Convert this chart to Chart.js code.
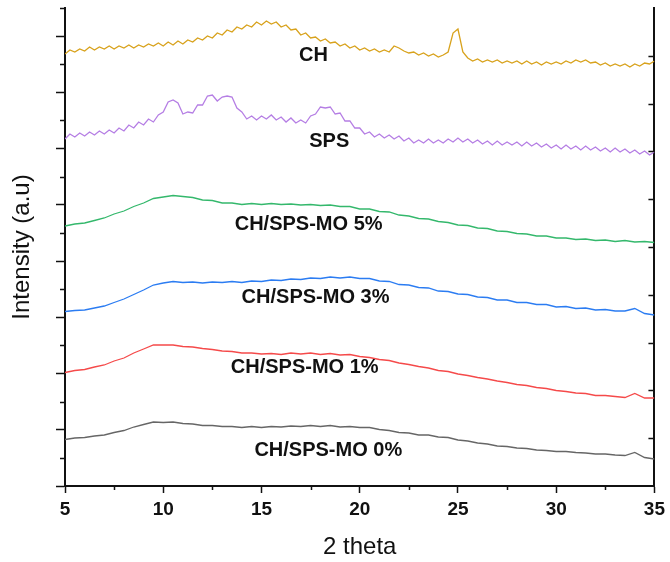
<!DOCTYPE html>
<html>
<head>
<meta charset="utf-8">
<script src="https://cdn.jsdelivr.net/npm/chart.js@4.4.0/dist/chart.umd.min.js"></script>
<style>
  html, body { margin: 0; padding: 0; background: #fff; }
  #wrap { width: 670px; height: 562px; }
</style>
</head>
<body>
<div id="wrap"><canvas id="xrd-chart" width="670" height="562"></canvas></div>
<script>
// XRD patterns, curves stacked with vertical offsets (a.u.)

// 2 theta sampling grids
const twoThetaFine = Array.from({ length: 121 }, (_, i) => 5 + i * 0.25);
const twoThetaCoarse = Array.from({ length: 61 }, (_, i) => 5 + i * 0.5);

const seriesNames = ['CH', 'SPS', 'CH/SPS-MO 5%', 'CH/SPS-MO 3%', 'CH/SPS-MO 1%', 'CH/SPS-MO 0%'];

// fine grid (0.25 deg)
const chValues = [
  432, 436, 434, 437, 435, 439, 436, 439, 437, 440, 437, 440, 438, 441, 438, 441, 439, 442, 440, 443,
  440, 444, 441, 445, 442, 446, 444, 448, 446, 450, 448, 453, 451, 456, 454, 459, 457, 461, 459, 464,
  461, 465, 462, 464, 459, 461, 456, 457, 451, 453, 448, 449, 445, 447, 443, 444, 440, 442, 438, 440,
  436, 438, 435, 437, 434, 436, 434, 440, 438, 435, 433, 434, 431, 433, 430, 432, 429, 431, 434, 453,
  457, 434, 428, 425, 427, 424, 426, 424, 426, 423, 425, 423, 425, 422, 425, 422, 424, 421, 424, 422,
  424, 422, 425, 423, 426, 424, 426, 423, 424, 421, 423, 420, 422, 420, 422, 419, 422, 420, 423, 422,
  425
];
const spsValues = [
  347, 352, 349, 353, 350, 354, 351, 355, 352, 356, 353, 358, 355, 361, 358, 364, 361, 367, 364, 371,
  374, 384, 386, 383, 372, 374, 373, 381, 381, 390, 391, 385, 389, 390, 389, 378, 374, 367, 370, 366,
  370, 367, 371, 366, 369, 364, 368, 363, 366, 363, 370, 372, 379, 378, 379, 372, 373, 365, 365, 358,
  358, 352, 354, 349, 352, 348, 351, 347, 350, 345, 348, 343, 346, 343, 347, 343, 346, 343, 347, 344,
  348, 344, 347, 343, 346, 342, 345, 341, 345, 341, 344, 341, 344, 340, 344, 340, 343, 339, 342, 338,
  341, 337, 341, 337, 340, 336, 340, 336, 339, 335, 338, 334, 338, 334, 337, 333, 336, 332, 335, 331,
  334
];

// coarse grid (0.5 deg)
const mo5Values = [
  260, 262, 263, 265.5, 268, 272, 275, 279.5, 283, 287.5, 289, 290.5, 289.5, 288.5, 286, 285.5, 283, 283, 281.5, 282.5,
  281.5, 282.5, 281.5, 282, 281, 281.5, 280.5, 281, 279.5, 279.5, 277, 277, 274.5, 274, 271, 270, 267.5, 267, 264.5, 263.5,
  261, 260.5, 258, 257.5, 255, 254.5, 252.5, 252, 250, 250, 248, 248, 246.5, 247, 245.5, 246, 244.5, 245.5, 244, 244.5,
  243.5
];
const mo3Values = [
  174.5, 175.5, 176, 178, 180, 183.5, 187, 191.5, 196, 201, 203, 204.5, 203.5, 204, 203, 204, 203.5, 204.5, 203.5, 205,
  204.5, 206, 205.5, 207, 206.5, 208, 207.5, 209, 208, 209, 207.5, 207.5, 205, 204.5, 201.5, 201, 198.5, 198, 195, 194.5,
  192, 191.5, 189, 188.5, 186, 186, 183.5, 183.5, 181.5, 181.5, 179, 179.5, 177.5, 178, 176, 176.5, 175, 175, 177.5, 172.5,
  171
];
const mo1Values = [
  113.5, 115.5, 116.5, 119, 121, 125, 128, 133, 137, 141, 141, 141, 139.5, 139, 137.5, 136.5, 135, 134.5, 133, 133,
  132, 132.5, 131.5, 133, 132, 133, 131.5, 132.5, 131, 131.5, 129.5, 128.5, 126.5, 125.5, 123, 121.5, 119.5, 118, 115.5, 114.5,
  112, 110.5, 108.5, 107, 105, 103.5, 101.5, 100.5, 98.5, 97.5, 95.5, 94.5, 93, 92.5, 90.5, 90.5, 89.5, 88.5, 92.5, 88,
  88
];
const mo0Values = [
  46.5, 48, 48.5, 50, 51, 53.5, 55.5, 59, 61.5, 64, 63.5, 64, 62.5, 62, 60.5, 60.5, 59.5, 59.5, 58.5, 59.5,
  58.5, 59.5, 59, 60, 59.5, 60.5, 59.5, 60.5, 59, 59.5, 58.5, 58.5, 56.5, 55.5, 53.5, 53, 51, 51, 49, 48.5,
  46, 45, 43, 42, 40, 39.5, 38, 37.5, 36, 35.5, 34.5, 34.5, 33.5, 33, 32, 32, 31, 30.5, 33.5, 28.5,
  27
];

const seriesX = [twoThetaFine, twoThetaFine, twoThetaCoarse, twoThetaCoarse, twoThetaCoarse, twoThetaCoarse];
const seriesY = [chValues, spsValues, mo5Values, mo3Values, mo1Values, mo0Values];
const colors = ['#d8a21c', '#b57ee4', '#34b86c', '#2b7cf2', '#f54a4a', '#666666'];

// where each curve name sits (2 theta, intensity)
const labelSpots = [[17.65, 431], [18.45, 345], [17.4, 262], [17.75, 189], [17.2, 119], [18.4, 36]];

const yMax = 478;
const yStep = yMax / 8.5;
const narrow = '"Liberation Sans Narrow", "Arial Narrow", "Liberation Sans", sans-serif';
const ink = '#111';

const extraTicks = {
  id: 'extraTicks',
  afterDraw(chart) {
    const { ctx, chartArea: a, scales } = chart;
    ctx.save();
    ctx.strokeStyle = ink;
    ctx.lineWidth = 1.5;
    ctx.beginPath();
    // left minor ticks
    for (let k = 0; k < 9; k++) {
      const v = (k + 0.5) * yStep;
      if (v > yMax) break;
      const py = Math.round(scales.y.getPixelForValue(v)) + 0.5;
      ctx.moveTo(a.left - 5, py); ctx.lineTo(a.left, py);
    }
    // bottom minor ticks
    for (let t = 7.5; t < 35; t += 5) {
      const px = Math.round(scales.x.getPixelForValue(t)) + 0.5;
      ctx.moveTo(px, a.bottom); ctx.lineTo(px, a.bottom + 4);
    }
    // right axis ticks, pointing in
    for (let k = 1; k < 10; k++) {
      const py = Math.round(scales.y2.getPixelForValue(k)) + 0.5;
      ctx.moveTo(a.right - 6, py); ctx.lineTo(a.right, py);
    }
    ctx.stroke();

    // curve names
    ctx.fillStyle = ink;
    ctx.font = 'bold 20px "Liberation Sans", Arial, sans-serif';
    ctx.textAlign = 'center';
    ctx.textBaseline = 'middle';
    seriesNames.forEach((name, i) => {
      const [tx, ty] = labelSpots[i];
      ctx.fillText(name, scales.x.getPixelForValue(tx), scales.y.getPixelForValue(ty));
    });
    ctx.restore();
  }
};

new Chart(document.getElementById('xrd-chart'), {
  type: 'line',
  data: {
    datasets: seriesNames.map((name, i) => ({
      label: name,
      data: seriesX[i].map((x, j) => ({ x: x, y: seriesY[i][j] })),
      borderColor: colors[i],
      borderWidth: 1.3,
      pointRadius: 0,
      fill: false
    }))
  },
  options: {
    responsive: false,
    animation: false,
    layout: { padding: { top: 8, right: 14, left: 0, bottom: 0 } },
    plugins: { legend: { display: false }, tooltip: { enabled: false } },
    scales: {
      x: {
        type: 'linear', min: 5, max: 35,
        ticks: { stepSize: 5, color: ink, padding: 5, maxRotation: 0, font: { family: narrow, size: 19, weight: 'bold' } },
        grid: { drawOnChartArea: false, tickLength: 7, tickColor: ink, tickWidth: 1.5 },
        border: { color: ink, width: 2 },
        title: { display: true, text: '2 theta', color: ink, font: { family: narrow, size: 24 }, padding: { top: 0, bottom: 0 } },
        afterFit: s => { s.height = 76; }
      },
      y: {
        min: 0, max: yMax,
        ticks: { display: false },
        afterBuildTicks: s => {
          const t = [];
          for (let k = 0; k <= 8; k++) t.push({ value: k * yStep });
          s.ticks = t;
        },
        grid: { drawOnChartArea: false, tickLength: 9, tickColor: ink, tickWidth: 1.5 },
        border: { color: ink, width: 2 },
        title: { display: true, text: 'Intensity (a.u)', color: ink, font: { family: '"Liberation Sans", Arial, sans-serif', size: 24 }, padding: { top: 8, bottom: 0 } },
        afterFit: s => { s.width = 65; }
      },
      y2: {
        position: 'right', min: 0, max: 10,
        ticks: { display: false },
        grid: { display: false },
        border: { display: true, color: ink, width: 2 },
        afterFit: s => { s.width = 0; }
      }
    }
  },
  plugins: [extraTicks]
});
</script>
</body>
</html>
